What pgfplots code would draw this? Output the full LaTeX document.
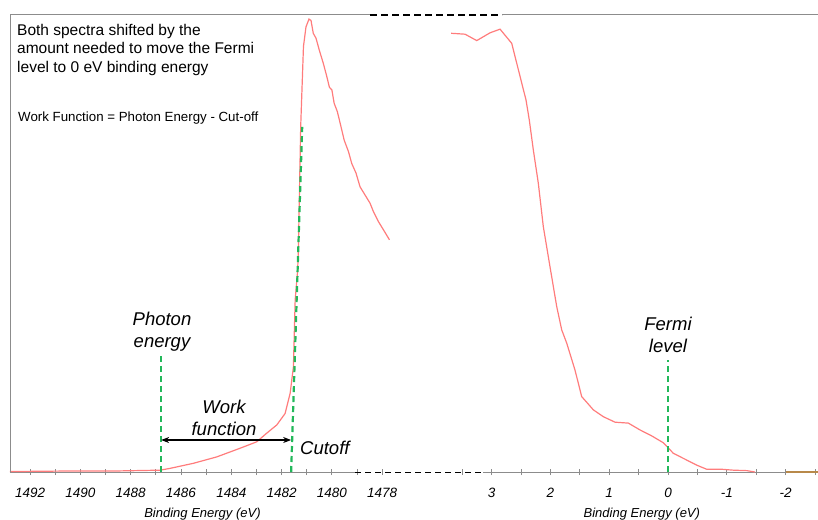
\documentclass[border=0pt]{standalone}
\usepackage{pgfplots}
\pgfplotsset{compat=1.18}
\usepackage{fontspec}
\setmainfont{Liberation Sans}
\usetikzlibrary{arrows.meta}
\definecolor{spec}{HTML}{FF7C7C}
\definecolor{grn}{HTML}{22B85A}
\definecolor{axgray}{HTML}{8C8C8C}
\definecolor{orng}{HTML}{B8894A}
\pgfplotsset{
  xpsaxis/.style={
    scale only axis, height=457pt, ymin=0, ymax=1, x dir=reverse,
    axis x line=bottom, axis y line=none, x axis line style={draw=none,-},
    tick align=center, major tick length=6pt, minor tick length=6pt,
    tick style={axgray, line width=0.8pt},
    xticklabel style={font=\fontsize{13.5}{15}\selectfont\itshape, anchor=center, yshift=-17.5pt},
    /pgf/number format/assume math mode=true,
    xlabel={Binding Energy (eV)},
    clip=false,
  }
}
\begin{document}
\begin{tikzpicture}
\path[use as bounding box, clip] (0pt,0pt) rectangle (818pt,519pt);
% ---------- left panel ----------
\begin{axis}[xpsaxis,
  at={(10pt,47pt)}, anchor=south west, width=385pt,
  xmin=1477.49, xmax=1492.8,
  xtick={1478,1480,1482,1484,1486,1488,1490,1492},
  xticklabels={1478,1480,1482,1484,1486,1488,1490,1492},
  minor xtick={1477,1479,1481,1483,1485,1487,1489,1491},
  xlabel style={at={(axis description cs:0.5,0)}, anchor=center, yshift=-42.5pt, font=\fontsize{13}{15}\selectfont\itshape},
]
\draw[axgray, line width=1pt] (axis cs:1492.8,0) -- (axis cs:1479.08,0);
\addplot[spec, line width=1.2pt] coordinates {
(1492.80,0.001) (1490.81,0.002) (1488.82,0.002) (1486.83,0.004) (1486.43,0.008)
(1485.51,0.019) (1484.58,0.033) (1483.65,0.052) (1482.99,0.066) (1482.59,0.085)
(1482.19,0.103) (1481.86,0.128) (1481.66,0.172) (1481.53,0.230) (1481.46,0.376)
(1481.36,0.442) (1481.33,0.493) (1481.24,0.756) (1481.13,0.931) (1481.03,0.974)
(1480.91,0.991) (1480.83,0.988) (1480.74,0.960) (1480.63,0.949) (1480.50,0.923)
(1480.34,0.894) (1480.20,0.865) (1480.10,0.842) (1480.00,0.836) (1479.91,0.807)
(1479.78,0.788) (1479.67,0.763) (1479.51,0.726) (1479.34,0.701) (1479.21,0.675)
(1479.04,0.654) (1478.88,0.624) (1478.68,0.606) (1478.48,0.588) (1478.35,0.570)
(1478.15,0.548) (1477.95,0.530) (1477.71,0.508)
};
\addplot[grn, line width=2.2pt, dash pattern=on 6pt off 4pt] coordinates {(1486.79,0) (1486.79,0.256)};
\addplot[grn, line width=2.2pt, dash pattern=on 6pt off 4pt] coordinates {(1481.62,0) (1481.18,0.755)};
\draw[black, line width=1.2pt, {Stealth[length=8pt,width=6pt]}-{Stealth[length=8pt,width=6pt]}]
  (axis cs:1486.79,0.070) -- (axis cs:1481.62,0.070);
\end{axis}
% ---------- right panel ----------
\begin{axis}[xpsaxis,
  at={(440pt,47pt)}, anchor=south west, width=378pt,
  xmin=-2.551, xmax=3.878,
  xtick={-2,-1,0,1,2,3},
  xticklabels={-2,-1,0,1,2,3},
  minor xtick={-2.5,-1.5,-0.5,0.5,1.5,2.5,3.5},
  xlabel style={at={(axis description cs:0.534,0)}, anchor=center, yshift=-42.5pt, font=\fontsize{13}{15}\selectfont\itshape},
]
\draw[axgray, line width=1pt] (axis cs:3.146,0) -- (axis cs:-2.551,0);
\addplot[orng, line width=1.5pt] coordinates {(-2,0) (-2.551,0)};
\addplot[spec, line width=1.2pt] coordinates {
(3.690,0.960) (3.452,0.958) (3.253,0.944) (3.027,0.961) (2.857,0.969)
(2.658,0.938) (2.488,0.851) (2.415,0.814) (2.359,0.770) (2.291,0.705)
(2.206,0.632) (2.121,0.537) (2.007,0.449) (1.893,0.362) (1.808,0.311)
(1.723,0.282) (1.582,0.223) (1.468,0.165) (1.270,0.136) (1.100,0.121)
(0.901,0.109) (0.675,0.107) (0.476,0.092) (0.277,0.079) (0.080,0.064)
(-0.090,0.041) (-0.289,0.028) (-0.488,0.015) (-0.658,0.006) (-0.913,0.006)
(-1.111,0.004) (-1.338,0.003) (-1.480,0.000)
};
\addplot[grn, line width=2.2pt, dash pattern=on 6pt off 4pt] coordinates {(0,0) (0,0.245)};
\end{axis}
% ---------- frame pieces and break marks ----------
\draw[axgray, line width=1pt] (10pt,47pt) -- (10pt,504pt);
\draw[axgray, line width=1pt] (10pt,504pt) -- (370pt,504pt);
\draw[black, line width=1.4pt, dash pattern=on 7pt off 4pt] (370pt,504pt) -- (502pt,504pt);
\draw[axgray, line width=1pt] (502pt,504pt) -- (818pt,504pt);
\draw[black, line width=0.9pt, dash pattern=on 6pt off 4pt] (355pt,47pt) -- (483pt,47pt);
% ---------- texts ----------
\node[anchor=north west, align=left, inner sep=0pt, font=\fontsize{15.5}{18.5}\selectfont] at (17pt,495pt)
  {Both spectra shifted by the\\amount needed to move the Fermi\\level to 0 eV binding energy};
\node[anchor=west, inner sep=0pt, font=\fontsize{13.3}{15}\selectfont] at (18pt,401pt) {Work Function = Photon Energy - Cut-off};
\node[align=center, font=\fontsize{18.5}{22}\selectfont\itshape] at (162pt,187pt) {Photon\\energy};
\node[align=center, font=\fontsize{18.5}{22}\selectfont\itshape] at (224pt,101pt) {Work\\function};
\node[anchor=west, inner sep=0pt, font=\fontsize{18.5}{22}\selectfont\itshape] at (300pt,71pt) {Cutoff};
\node[align=center, font=\fontsize{18.5}{22}\selectfont\itshape] at (668pt,184pt) {Fermi\\level};
\end{tikzpicture}
\end{document}
